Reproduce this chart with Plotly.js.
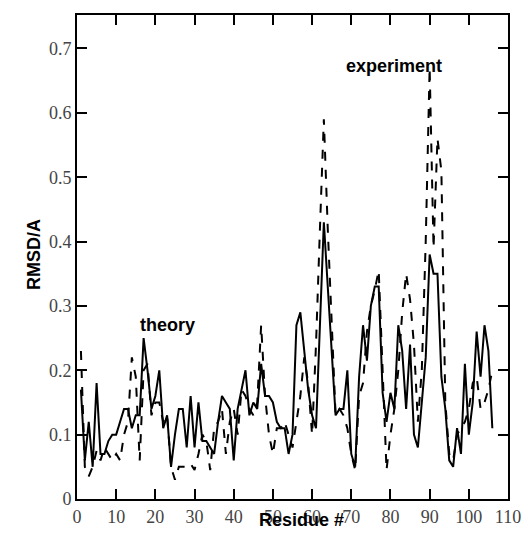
<!DOCTYPE html>
<html>
<head>
<meta charset="utf-8">
<script src="https://cdn.plot.ly/plotly-3.0.1.min.js"></script>
<style>html,body{margin:0;padding:0;background:#fff;}#chart{width:525px;height:551px;}.modebar-container{display:none !important;}</style>
</head>
<body>
<div id="chart"></div>
<script>
const residues = [
  1, 2, 3, 4, 5, 6, 7, 8, 9, 10, 11, 12, 13, 14, 15, 16, 17, 18, 19, 20,
  21, 22, 23, 24, 25, 26, 27, 28, 29, 30, 31, 32, 33, 34, 35, 36, 37, 38, 39, 40,
  41, 42, 43, 44, 45, 46, 47, 48, 49, 50, 51, 52, 53, 54, 55, 56, 57, 58, 59, 60,
  61, 62, 63, 64, 65, 66, 67, 68, 69, 70, 71, 72, 73, 74, 75, 76, 77, 78, 79, 80,
  81, 82, 83, 84, 85, 86, 87, 88, 89, 90, 91, 92, 93, 94, 95, 96, 97, 98, 99, 100,
  101, 102, 103, 104, 105, 106
];

const theory = [
  0.17, 0.06, 0.12, 0.05, 0.18, 0.07, 0.07, 0.09, 0.10, 0.10,
  0.12, 0.14, 0.14, 0.11, 0.13, 0.13, 0.25, 0.20, 0.14, 0.16,
  0.20, 0.11, 0.13, 0.05, 0.10, 0.14, 0.14, 0.08, 0.16, 0.08,
  0.15, 0.09, 0.09, 0.08, 0.07, 0.12, 0.16, 0.15, 0.14, 0.06,
  0.14, 0.17, 0.20, 0.13, 0.15, 0.14, 0.21, 0.16, 0.16, 0.15,
  0.12, 0.11, 0.11, 0.07, 0.10, 0.27, 0.29, 0.23, 0.17, 0.13,
  0.11, 0.27, 0.43, 0.33, 0.23, 0.13, 0.14, 0.14, 0.20, 0.07,
  0.05, 0.19, 0.27, 0.215, 0.30, 0.33, 0.33, 0.165, 0.12, 0.165,
  0.14, 0.27, 0.23, 0.14, 0.24, 0.10, 0.08, 0.15, 0.22, 0.38,
  0.35, 0.35, 0.19, 0.14, 0.06, 0.05, 0.11, 0.07, 0.21, 0.10,
  0.15, 0.26, 0.19, 0.27, 0.23, 0.11
];

const experiment = [
  0.23, 0.05, 0.035, 0.05, 0.075, 0.06, 0.08, 0.07, 0.06, 0.07,
  0.06, 0.10, 0.12, 0.22, 0.19, 0.06, 0.20, 0.21, 0.13, 0.15,
  0.15, 0.12, 0.13, 0.05, 0.03, 0.05, 0.05, 0.05, 0.055, 0.045,
  0.07, 0.10, 0.09, 0.045, 0.11, 0.12, 0.14, 0.07, 0.12, 0.14,
  0.10, 0.17, 0.16, 0.14, 0.13, 0.15, 0.27, 0.16, 0.10, 0.07,
  0.11, 0.11, 0.12, 0.10, 0.08, 0.12, 0.16, 0.22, 0.18, 0.10,
  0.24, 0.42, 0.59, 0.42, 0.27, 0.13, 0.14, 0.13, 0.11, 0.07,
  0.045, 0.16, 0.18, 0.26, 0.30, 0.325, 0.355, 0.20, 0.045, 0.10,
  0.14, 0.20, 0.29, 0.35, 0.31, 0.24, 0.12, 0.20, 0.40, 0.67,
  0.39, 0.56, 0.51, 0.15, 0.07, 0.06, 0.10, 0.11, 0.12, 0.14,
  0.18, 0.19, 0.14, 0.15, 0.17, 0.20
];

const boldSans = {family: 'Liberation Sans', size: 18, color: 'black'};

const layout = {
  width: 525, height: 551,
  margin: {l: 77, r: 17, t: 15, b: 52},
  font: {family: 'Liberation Serif', size: 18},
  showlegend: false,
  xaxis: {range: [0, 110], dtick: 10, ticks: 'inside', ticklen: 10, tickwidth: 2, tickcolor: 'black',
          showline: true, linecolor: 'black', linewidth: 2, mirror: 'ticks', showgrid: false, zeroline: false},
  yaxis: {range: [0, 0.752], dtick: 0.1, ticks: 'inside', ticklen: 10, tickwidth: 2, tickcolor: 'black',
          showline: true, linecolor: 'black', linewidth: 2, mirror: 'ticks', showgrid: false, zeroline: false},
  annotations: [
    {x: 23, y: 0.27, text: '<b>theory</b>', showarrow: false, font: boldSans},
    {x: 81, y: 0.673, text: '<b>experiment</b>', showarrow: false, font: boldSans},
    {xref: 'paper', yref: 'paper', x: 0.52, y: -0.068, text: '<b>Residue #</b>', showarrow: false, font: boldSans},
    {xref: 'paper', yref: 'paper', x: -0.128, y: 0.506, text: '<b>RMSD/A</b>', textangle: -90, showarrow: false, font: boldSans}
  ]
};

Plotly.newPlot('chart', [
  {x: residues, y: theory, mode: 'lines', line: {color: 'black', width: 2}},
  {x: residues, y: experiment, mode: 'lines', line: {color: 'black', width: 2, dash: 'dash'}}
], layout);
</script>
</body>
</html>
